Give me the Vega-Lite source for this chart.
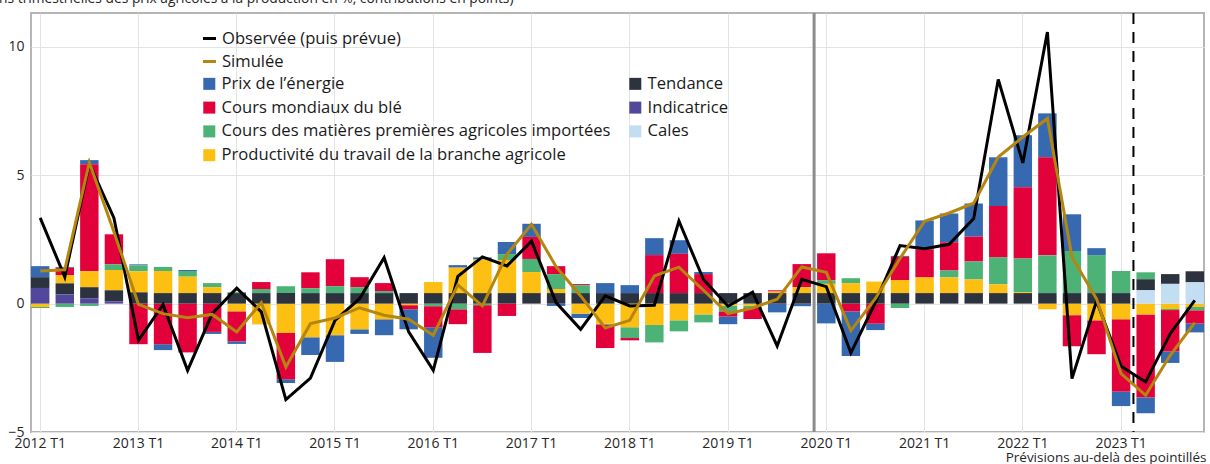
{
  "$schema": "https://vega.github.io/schema/vega-lite/v6.json",
  "width": 1173,
  "height": 419,
  "autosize": {"type": "none"},
  "padding": {"left": 31, "top": 13, "right": 6, "bottom": 32},
  "background": "white",
  "config": {
    "font": "Open Sans",
    "view": {"stroke": "#b5b5b5", "strokeWidth": 2},
    "axis": {"gridColor": "#e3e3e3", "gridWidth": 1, "labelColor": "#262626", "labelFontSize": 14, "ticks": false, "domain": false, "labelFont": "Open Sans"},
    "legend": {"labelFont": "Open Sans", "labelColor": "#1a1a1a", "labelFontSize": 16.6, "padding": 0, "labelLimit": 600}
  },
  "title": {
    "text": "(variations trimestrielles des prix agricoles à la production en %, contributions en points)",
    "anchor": "start",
    "frame": "group",
    "baseline": "alphabetic",
    "offset": 9,
    "dy": 14,
    "dx": -84,
    "fontSize": 13.8,
    "fontWeight": "normal",
    "color": "#262626",
    "font": "Open Sans"
  },
  "datasets": {
    "trim": [
      {"q": "2012 T1", "ene": 0.43, "ble": 0, "mat": -0.04, "prod": -0.13, "ten": 0.42, "ind": 0.61, "cal": 0, "obs": 3.34, "sim": 1.27},
      {"q": "2012 T2", "ene": 0.03, "ble": 0.30, "mat": -0.13, "prod": 0.31, "ten": 0.43, "ind": 0.36, "cal": 0, "obs": 1.04, "sim": 1.32},
      {"q": "2012 T3", "ene": 0.16, "ble": 4.17, "mat": -0.09, "prod": 0.62, "ten": 0.43, "ind": 0.21, "cal": 0, "obs": 5.45, "sim": 5.5},
      {"q": "2012 T4", "ene": 0, "ble": 1.17, "mat": 0.22, "prod": 0.79, "ten": 0.43, "ind": 0.09, "cal": 0, "obs": 3.34, "sim": 2.8},
      {"q": "2013 T1", "ene": 0.04, "ble": -1.58, "mat": 0.23, "prod": 0.82, "ten": 0.44, "ind": 0, "cal": 0, "obs": -1.43, "sim": -0.03},
      {"q": "2013 T2", "ene": -0.23, "ble": -1.58, "mat": 0.16, "prod": 0.86, "ten": 0.41, "ind": 0, "cal": 0, "obs": -0.04, "sim": -0.39},
      {"q": "2013 T3", "ene": 0.04, "ble": -1.90, "mat": 0.22, "prod": 0.64, "ten": 0.41, "ind": 0, "cal": 0, "obs": -2.6, "sim": -0.55},
      {"q": "2013 T4", "ene": -0.08, "ble": -1.10, "mat": 0.16, "prod": 0.23, "ten": 0.41, "ind": 0, "cal": 0, "obs": -0.39, "sim": -0.42},
      {"q": "2014 T1", "ene": -0.10, "ble": -1.17, "mat": 0.04, "prod": -0.30, "ten": 0.41, "ind": 0, "cal": 0, "obs": 0.6, "sim": -1.10},
      {"q": "2014 T2", "ene": 0, "ble": 0.27, "mat": 0.16, "prod": -0.81, "ten": 0.41, "ind": 0, "cal": 0, "obs": -0.32, "sim": 0.04},
      {"q": "2014 T3", "ene": -0.14, "ble": -1.81, "mat": 0.27, "prod": -1.14, "ten": 0.41, "ind": 0, "cal": 0, "obs": -3.74, "sim": -2.47},
      {"q": "2014 T4", "ene": -0.69, "ble": 0.62, "mat": 0.19, "prod": -1.31, "ten": 0.41, "ind": 0, "cal": 0, "obs": -2.9, "sim": -0.78},
      {"q": "2015 T1", "ene": -1.04, "ble": 1.05, "mat": 0.27, "prod": -1.23, "ten": 0.41, "ind": 0, "cal": 0, "obs": -0.65, "sim": -0.56},
      {"q": "2015 T2", "ene": -0.18, "ble": 0.39, "mat": 0.23, "prod": -1.0, "ten": 0.41, "ind": 0, "cal": 0, "obs": 0.19, "sim": -0.16},
      {"q": "2015 T3", "ene": -0.62, "ble": 0.31, "mat": 0.08, "prod": -0.61, "ten": 0.41, "ind": 0, "cal": 0, "obs": 1.79, "sim": -0.45},
      {"q": "2015 T4", "ene": -0.78, "ble": -0.16, "mat": 0, "prod": -0.06, "ten": 0.41, "ind": 0, "cal": 0, "obs": -1.1, "sim": -0.61},
      {"q": "2016 T1", "ene": -1.19, "ble": -0.82, "mat": -0.10, "prod": 0.43, "ten": 0.41, "ind": 0, "cal": 0, "obs": -2.6, "sim": -1.23},
      {"q": "2016 T2", "ene": 0.10, "ble": -0.58, "mat": -0.22, "prod": 0.99, "ten": 0.41, "ind": 0, "cal": 0, "obs": 1.06, "sim": 0.73},
      {"q": "2016 T3", "ene": 0.08, "ble": -1.86, "mat": -0.06, "prod": 1.31, "ten": 0.41, "ind": 0, "cal": 0, "obs": 1.82, "sim": -0.09},
      {"q": "2016 T4", "ene": 0.47, "ble": -0.48, "mat": 0.23, "prod": 1.29, "ten": 0.41, "ind": 0, "cal": 0, "obs": 1.47, "sim": 1.92},
      {"q": "2017 T1", "ene": 0.51, "ble": 0.86, "mat": 0.51, "prod": 0.82, "ten": 0.41, "ind": 0, "cal": 0, "obs": 2.43, "sim": 3.09},
      {"q": "2017 T2", "ene": -0.09, "ble": 0.31, "mat": 0.58, "prod": 0.16, "ten": 0.41, "ind": 0, "cal": 0, "obs": 0.04, "sim": 1.44},
      {"q": "2017 T3", "ene": -0.17, "ble": 0.04, "mat": 0.31, "prod": -0.39, "ten": 0.41, "ind": 0, "cal": 0, "obs": -1.0, "sim": 0.3},
      {"q": "2017 T4", "ene": 0.39, "ble": -0.92, "mat": -0.03, "prod": -0.78, "ten": 0.41, "ind": 0, "cal": 0, "obs": 0.3, "sim": -0.95},
      {"q": "2018 T1", "ene": 0.31, "ble": -0.09, "mat": -0.42, "prod": -0.92, "ten": 0.41, "ind": 0, "cal": 0, "obs": -0.09, "sim": -0.65},
      {"q": "2018 T2", "ene": 0.66, "ble": 1.48, "mat": -0.68, "prod": -0.83, "ten": 0.41, "ind": 0, "cal": 0, "obs": -0.06, "sim": 1.08},
      {"q": "2018 T3", "ene": 0.53, "ble": 1.53, "mat": -0.43, "prod": -0.65, "ten": 0.41, "ind": 0, "cal": 0, "obs": 3.22, "sim": 1.42},
      {"q": "2018 T4", "ene": 0.08, "ble": 0.74, "mat": -0.31, "prod": -0.42, "ten": 0.41, "ind": 0, "cal": 0, "obs": 0.94, "sim": 0.52},
      {"q": "2019 T1", "ene": -0.3, "ble": -0.2, "mat": -0.22, "prod": -0.08, "ten": 0.41, "ind": 0, "cal": 0, "obs": -0.1, "sim": -0.39},
      {"q": "2019 T2", "ene": 0, "ble": -0.43, "mat": -0.09, "prod": -0.08, "ten": 0.41, "ind": 0, "cal": 0, "obs": 0.45, "sim": -0.17},
      {"q": "2019 T3", "ene": -0.34, "ble": 0.05, "mat": 0, "prod": 0.06, "ten": 0.41, "ind": 0, "cal": 0, "obs": -1.65, "sim": 0.17},
      {"q": "2019 T4", "ene": -0.10, "ble": 0.90, "mat": 0, "prod": 0.23, "ten": 0.41, "ind": 0, "cal": 0, "obs": 0.95, "sim": 1.43},
      {"q": "2020 T1", "ene": -0.77, "ble": 1.05, "mat": 0.14, "prod": 0.36, "ten": 0.41, "ind": 0, "cal": 0, "obs": 0.66, "sim": 1.22},
      {"q": "2020 T2", "ene": -1.74, "ble": -0.30, "mat": 0.19, "prod": 0.39, "ten": 0.41, "ind": 0, "cal": 0, "obs": -1.92, "sim": -1.05},
      {"q": "2020 T3", "ene": -0.25, "ble": -0.78, "mat": 0, "prod": 0.45, "ten": 0.41, "ind": 0, "cal": 0, "obs": 0.05, "sim": 0.2},
      {"q": "2020 T4", "ene": 0.04, "ble": 0.90, "mat": -0.17, "prod": 0.51, "ten": 0.41, "ind": 0, "cal": 0, "obs": 2.26, "sim": 1.76},
      {"q": "2021 T1", "ene": 1.12, "ble": 1.10, "mat": 0, "prod": 0.61, "ten": 0.41, "ind": 0, "cal": 0, "obs": 2.14, "sim": 3.21},
      {"q": "2021 T2", "ene": 1.12, "ble": 1.10, "mat": 0.27, "prod": 0.61, "ten": 0.41, "ind": 0, "cal": 0, "obs": 2.31, "sim": 3.53},
      {"q": "2021 T3", "ene": 1.29, "ble": 0.97, "mat": 0.70, "prod": 0.53, "ten": 0.41, "ind": 0, "cal": 0, "obs": 3.31, "sim": 3.91},
      {"q": "2021 T4", "ene": 1.90, "ble": 2.0, "mat": 1.05, "prod": 0.34, "ten": 0.41, "ind": 0, "cal": 0, "obs": 8.73, "sim": 5.71},
      {"q": "2022 T1", "ene": 2.03, "ble": 2.77, "mat": 1.31, "prod": 0.04, "ten": 0.41, "ind": 0, "cal": 0, "obs": 5.48, "sim": 6.49},
      {"q": "2022 T2", "ene": 1.71, "ble": 3.82, "mat": 1.47, "prod": -0.22, "ten": 0.41, "ind": 0, "cal": 0, "obs": 10.58, "sim": 7.21},
      {"q": "2022 T3", "ene": 1.43, "ble": -1.21, "mat": 1.64, "prod": -0.45, "ten": 0.41, "ind": 0, "cal": 0, "obs": -2.92, "sim": 1.82},
      {"q": "2022 T4", "ene": 0.27, "ble": -1.32, "mat": 1.48, "prod": -0.65, "ten": 0.41, "ind": 0, "cal": 0, "obs": 0.1, "sim": 0.19},
      {"q": "2023 T1", "ene": -0.57, "ble": -2.81, "mat": 0.86, "prod": -0.61, "ten": 0.41, "ind": 0, "cal": 0, "obs": -2.44, "sim": -2.73},
      {"q": "2023 T2", "ene": -0.62, "ble": -3.23, "mat": 0.27, "prod": -0.42, "ten": 0.43, "ind": 0, "cal": 0.52, "obs": -3.05, "sim": -3.57},
      {"q": "2023 T3", "ene": -0.45, "ble": -1.61, "mat": -0.04, "prod": -0.21, "ten": 0.38, "ind": 0, "cal": 0.77, "obs": -1.17, "sim": -2.01},
      {"q": "2023 T4", "ene": -0.35, "ble": -0.51, "mat": -0.13, "prod": -0.13, "ten": 0.43, "ind": 0, "cal": 0.83, "obs": 0.13, "sim": -0.74}
    ]
  },
  "data": {"name": "trim"},
  "encoding": {
    "x": {
      "field": "q",
      "type": "ordinal",
      "scale": {"paddingInner": 0.25, "paddingOuter": 0},
      "axis": {
        "values": ["2012 T1", "2013 T1", "2014 T1", "2015 T1", "2016 T1", "2017 T1", "2018 T1", "2019 T1", "2020 T1", "2021 T1", "2022 T1", "2023 T1"],
        "grid": true,
        "bandPosition": 0.5,
        "labelAngle": 0,
        "labelPadding": 4,
        "labelFlush": false,
        "labelOverlap": false,
        "title": "Prévisions au-delà des pointillés",
        "titleAnchor": "end",
        "titleAlign": "right",
        "titleBaseline": "alphabetic",
        "titleX": 1175,
        "titleY": 29,
        "titleFontSize": 13.5,
        "titleFontWeight": "normal",
        "titleColor": "#262626",
        "titleFont": "Open Sans"
      }
    }
  },
  "layer": [
    {
      "transform": [
        {"fold": ["ene", "ble", "mat", "prod", "ten", "ind", "cal"], "as": ["serie", "valeur"]},
        {"lookup": "serie", "from": {"data": {"values": [
          {"serie": "ene", "label": "Prix de l’énergie", "rang": 6},
          {"serie": "ten", "label": "Tendance", "rang": 2},
          {"serie": "ble", "label": "Cours mondiaux du blé", "rang": 5},
          {"serie": "ind", "label": "Indicatrice", "rang": 0},
          {"serie": "mat", "label": "Cours des matières premières agricoles importées", "rang": 4},
          {"serie": "cal", "label": "Cales", "rang": 1},
          {"serie": "prod", "label": "Productivité du travail de la branche agricole", "rang": 3}
        ]}, "key": "serie", "fields": ["label", "rang"]}}
      ],
      "mark": {"type": "bar"},
      "encoding": {
        "y": {
          "field": "valeur",
          "type": "quantitative",
          "stack": "zero",
          "scale": {"domain": [-5, 11.32], "nice": false, "zero": false},
          "axis": {"values": [-5, 0, 5, 10], "grid": true, "title": null, "labelPadding": 7}
        },
        "color": {
          "field": "label",
          "type": "nominal",
          "scale": {
            "domain": ["Prix de l’énergie", "Cours mondiaux du blé", "Cours des matières premières agricoles importées", "Productivité du travail de la branche agricole", "Tendance", "Indicatrice", "Cales"],
            "range": ["#3769b1", "#e2013b", "#4cb276", "#fcbf12", "#2c333e", "#52479a", "#c3ddf3"]
          },
          "legend": {
            "orient": "none",
            "legendX": 170,
            "legendY": 62.5,
            "columns": 2,
            "title": null,
            "symbolType": "square",
            "symbolSize": 144,
            "symbolStrokeWidth": 0,
            "rowPadding": 6.8,
            "columnPadding": 16,
            "labelOffset": 4
          }
        },
        "order": {"field": "rang", "type": "quantitative", "sort": "ascending"}
      }
    },
    {
      "data": {"values": [{"q": "2020 T1"}]},
      "mark": {"type": "rule", "color": "#8c8c8c", "strokeWidth": 3, "xOffset": -3},
      "encoding": {
        "x": {
          "field": "q",
          "type": "ordinal",
          "bandPosition": 0,
          "axis": {
            "values": ["2012 T1", "2013 T1", "2014 T1", "2015 T1", "2016 T1", "2017 T1", "2018 T1", "2019 T1", "2020 T1", "2021 T1", "2022 T1", "2023 T1"],
            "grid": true,
            "bandPosition": 0.5,
            "labelAngle": 0,
            "labelPadding": 4,
            "labelFlush": false,
            "labelOverlap": false,
            "title": "Prévisions au-delà des pointillés",
            "titleAnchor": "end",
            "titleAlign": "right",
            "titleBaseline": "alphabetic",
            "titleX": 1175,
            "titleY": 29,
            "titleFontSize": 13.5,
            "titleFontWeight": "normal",
            "titleColor": "#262626",
            "titleFont": "Open Sans"
          }
        }
      }
    },
    {
      "data": {"values": [{"q": "2023 T2"}]},
      "mark": {"type": "rule", "color": "#000000", "strokeWidth": 2, "strokeDash": [11, 8], "xOffset": -3},
      "encoding": {
        "x": {
          "field": "q",
          "type": "ordinal",
          "bandPosition": 0,
          "axis": {
            "values": ["2012 T1", "2013 T1", "2014 T1", "2015 T1", "2016 T1", "2017 T1", "2018 T1", "2019 T1", "2020 T1", "2021 T1", "2022 T1", "2023 T1"],
            "grid": true,
            "bandPosition": 0.5,
            "labelAngle": 0,
            "labelPadding": 4,
            "labelFlush": false,
            "labelOverlap": false,
            "title": "Prévisions au-delà des pointillés",
            "titleAnchor": "end",
            "titleAlign": "right",
            "titleBaseline": "alphabetic",
            "titleX": 1175,
            "titleY": 29,
            "titleFontSize": 13.5,
            "titleFontWeight": "normal",
            "titleColor": "#262626",
            "titleFont": "Open Sans"
          }
        }
      }
    },
    {
      "mark": {"type": "line", "strokeWidth": 3, "strokeJoin": "miter"},
      "encoding": {
        "y": {"field": "obs", "type": "quantitative", "scale": {"domain": [-5, 11.32], "nice": false, "zero": false}, "axis": {"values": [-5, 0, 5, 10], "grid": true, "title": null, "labelPadding": 7}},
        "stroke": {
          "datum": "Observée (puis prévue)",
          "scale": {"domain": ["Observée (puis prévue)", "Simulée"], "range": ["#000000", "#b5860f"]},
          "legend": {
            "orient": "none",
            "legendX": 170,
            "legendY": 17,
            "title": null,
            "symbolType": "stroke",
            "symbolSize": 170,
            "symbolStrokeWidth": 3,
            "rowPadding": 5,
            "labelOffset": 4
          }
        }
      }
    },
    {
      "mark": {"type": "line", "strokeWidth": 3, "strokeJoin": "miter"},
      "encoding": {
        "y": {"field": "sim", "type": "quantitative", "scale": {"domain": [-5, 11.32], "nice": false, "zero": false}, "axis": {"values": [-5, 0, 5, 10], "grid": true, "title": null, "labelPadding": 7}},
        "stroke": {
          "datum": "Simulée",
          "scale": {"domain": ["Observée (puis prévue)", "Simulée"], "range": ["#000000", "#b5860f"]},
          "legend": {
            "orient": "none",
            "legendX": 170,
            "legendY": 17,
            "title": null,
            "symbolType": "stroke",
            "symbolSize": 170,
            "symbolStrokeWidth": 3,
            "rowPadding": 5,
            "labelOffset": 4
          }
        }
      }
    }
  ]
}
